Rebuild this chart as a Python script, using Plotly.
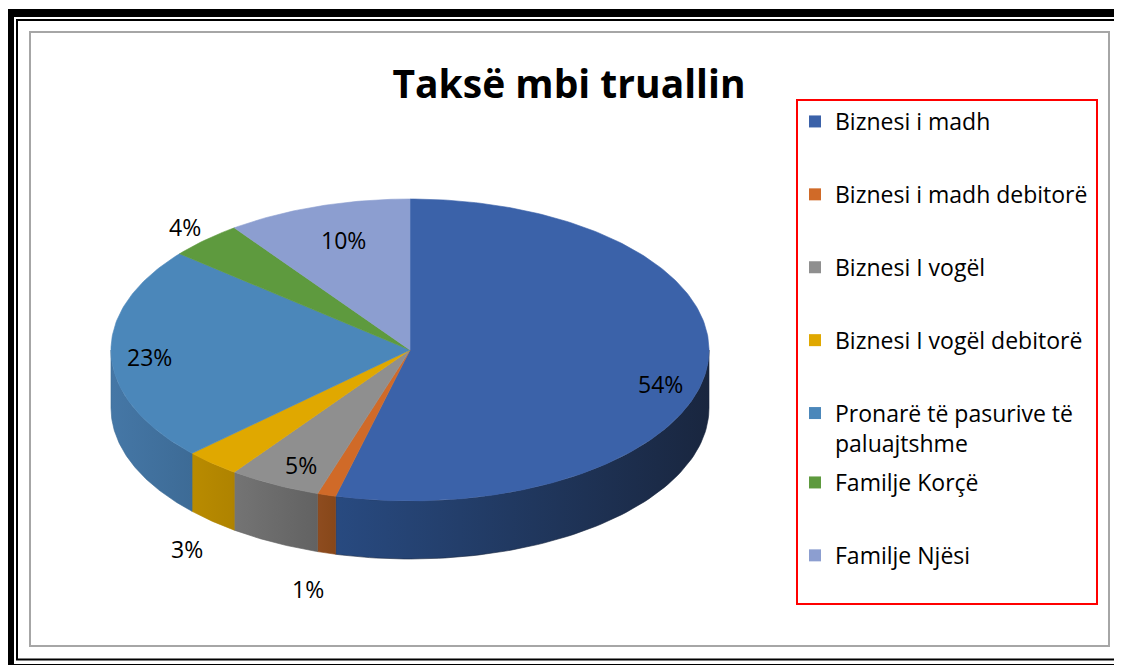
import numpy as np
import plotly.graph_objects as go

# ---------------- data ----------------
categories = ["Biznesi i madh", "Biznesi i madh debitorë", "Biznesi I vogël",
              "Biznesi I vogël debitorë", "Pronarë të pasurive të<br>paluajtshme",
              "Familje Korçë", "Familje Njësi"]
values = [54, 1, 5, 3, 23, 4, 10]
title_text = "Taksë mbi truallin"

# ---------------- style ----------------
top_colors = ["#3B62A9", "#D06A28", "#8F8F8F", "#E0A800", "#4B87BA", "#5E9A3E", "#8C9ED0"]
wall_light = ["#284A80", "#8E4C1F", "#747474", "#B98B00", "#4577A6", "#4F8233", "#7585B0"]
wall_dark = ["#19263F", "#874719", "#626262", "#AF8300", "#3D6B96", "#46742D", "#6A79A2"]
label_r = [0.846, 1.22, 0.80, 1.128, 0.873, 1.10, 0.72]
label_dy = [18, 62, 7, 71, 3, -2, -7]

# page body has an 8px margin: the figure is sized/offset so that
# axis units equal window pixels
OFF = 8
W, H = 1122, 665
FW, FH = W - OFF, H - OFF
CX, CY, RX, RY, DEPTH = 410, 350, 299, 151, 58
FONT = "Open Sans"


def px(x):
    return (x - OFF) / FW


def py(y):
    return 1 - (y - OFF) / FH


total = float(sum(values))
cum = np.concatenate([[0.0], np.cumsum(values)]) / total
ang = cum * 2 * np.pi


def ell(theta, k=1.0, dz=0.0):
    return CX + RX * k * np.sin(theta), CY - RY * k * np.cos(theta) + dz


fig = go.Figure()

# side walls (front half only)
for i, v in enumerate(values):
    a, b = max(ang[i], np.pi / 2), min(ang[i + 1], 3 * np.pi / 2)
    if b <= a:
        continue
    t = np.linspace(a, b, 80)
    xt, yt = ell(t)
    xb, yb = ell(t[::-1], dz=DEPTH)
    xs = np.concatenate([xt, xb, xt[:1]])
    ys = np.concatenate([yt, yb, yt[:1]])
    fig.add_trace(go.Scatter(
        x=xs, y=ys, mode="lines", fill="toself",
        fillcolor=wall_light[i],
        fillgradient=dict(type="horizontal",
                          colorscale=[[0, wall_light[i]], [1, wall_dark[i]]]),
        line=dict(width=0.6, color=wall_dark[i]),
        hoverinfo="skip", showlegend=False))

# top faces
for i, v in enumerate(values):
    t = np.linspace(ang[i], ang[i + 1], max(3, int(v * 4)))
    xa, ya = ell(t)
    xs = np.concatenate([[CX], xa, [CX]])
    ys = np.concatenate([[CY], ya, [CY]])
    fig.add_trace(go.Scatter(
        x=xs, y=ys, mode="lines", fill="toself", fillcolor=top_colors[i],
        line=dict(width=0.6, color=top_colors[i]),
        hoverinfo="skip", showlegend=False))

# percentage labels
for i, v in enumerate(values):
    mid = (ang[i] + ang[i + 1]) / 2
    lx, ly = ell(mid, k=label_r[i], dz=label_dy[i])
    fig.add_annotation(x=lx, y=ly, text=f"{round(v / total * 100)}%",
                       showarrow=False, xanchor="center", yanchor="middle",
                       font=dict(family=FONT, size=23, color="#000000"))

# legend entries
for i, c in enumerate(categories):
    fig.add_trace(go.Scatter(
        x=[None], y=[None], mode="markers", name=c,
        marker=dict(symbol="square", size=15, color=top_colors[i]),
        legend="legend" if i < 5 else "legend2",
        legendgroup=f"g{i}", showlegend=True))

shapes = [
    dict(type="rect", x0=10, y0=13, x1=1135, y1=668, line=dict(color="black", width=8)),
    dict(type="rect", x0=17, y0=20, x1=1135, y1=659.5, line=dict(color="black", width=2)),
    dict(type="rect", x0=30, y0=32, x1=1109, y1=646, line=dict(color="#A6A6A6", width=2)),
    dict(type="rect", x0=797, y0=100, x1=1097, y1=604, line=dict(color="#FF0000", width=2)),
]

legend_common = dict(xanchor="left", yanchor="top", bgcolor="rgba(0,0,0,0)",
                     borderwidth=0, font=dict(family=FONT, size=23, color="#000000"),
                     tracegroupgap=40, valign="top", itemsizing="constant",
                     xref="paper", yref="paper")

fig.update_layout(
    width=FW, height=FH,
    margin=dict(l=0, r=0, t=0, b=0),
    paper_bgcolor="white", plot_bgcolor="white",
    xaxis=dict(range=[OFF, W], visible=False, fixedrange=True),
    yaxis=dict(range=[H, OFF], visible=False, fixedrange=True),
    title=dict(text=f"<b>{title_text}</b>", x=px(569), xanchor="center",
               y=py(84), yanchor="middle",
               font=dict(family=FONT, size=39, color="#000000")),
    shapes=shapes,
    legend=dict(x=px(795), y=py(100), **legend_common),
    legend2=dict(x=px(795), y=py(461), **legend_common),
    showlegend=True,
)

fig.write_html("out.html")
